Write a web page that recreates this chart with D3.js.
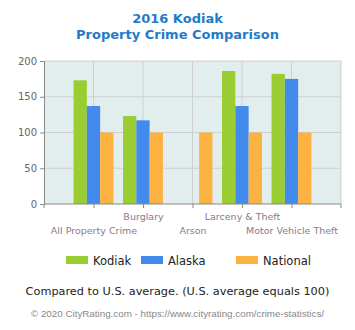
<!DOCTYPE html>
<html><head><meta charset="utf-8">
<script src="https://cdn.jsdelivr.net/npm/d3@7"></script>
<style>body{margin:0;background:#fff;}svg{display:block;}</style>
</head><body>
<script>
const categories = ["All Property Crime","Burglary","Arson","Larceny & Theft","Motor Vehicle Theft"];
const seriesNames = ["Kodiak","Alaska","National"];
const kodiak = [173, 123, null, 186, 182];
const alaska = [137, 117, null, 137, 175];
const national = [100, 100, 100, 100, 100];
const yTicks = [0, 50, 100, 150, 200];
const colors = ["#9acd32", "#428bed", "#fbb241"];

(function(){
const W = 355, H = 330;
const svg = d3.select("body").append("svg").attr("width", W).attr("height", H);
const pL = 44, pR = 341, pT = 61, pB = 204;

svg.append("text").attr("x", 177.5).attr("y", 23).attr("text-anchor","middle")
  .attr("font-family","DejaVu Sans").attr("font-weight","bold").attr("font-size",13)
  .attr("fill","#1f7bc9").text("2016 Kodiak");
svg.append("text").attr("x", 177.5).attr("y", 39).attr("text-anchor","middle")
  .attr("font-family","DejaVu Sans").attr("font-weight","bold").attr("font-size",13)
  .attr("fill","#1f7bc9").text("Property Crime Comparison");

const x = d3.scalePoint().domain(["_s", ...categories, "_e"]).range([pL, pR]);
const y = d3.scaleLinear().domain([0, 200]).range([pB, pT]);

svg.append("rect").attr("x", pL).attr("y", pT).attr("width", pR-pL).attr("height", pB-pT).attr("fill","#e2eeee");

svg.append("g").selectAll("line").data(yTicks.filter(d=>d>0)).join("line")
  .attr("x1", pL).attr("x2", pR).attr("y1", d=>y(d)).attr("y2", d=>y(d))
  .attr("stroke","#cfcfcf").attr("stroke-width",1);
svg.append("g").selectAll("line").data([...categories, "_e"]).join("line")
  .attr("x1", d=>x(d)).attr("x2", d=>x(d)).attr("y1", pT).attr("y2", pB)
  .attr("stroke","#cfcfcf").attr("stroke-width",1);

const data = [kodiak, alaska, national];
const bw = 13.3;
const g = svg.append("g");
data.forEach((vals, si) => {
  g.selectAll(null).data(vals.map((v,i)=>({v, c: categories[i]})).filter(d=>d.v!=null)).join("rect")
    .attr("x", d => x(d.c) - 1.5*bw + si*bw)
    .attr("width", bw)
    .attr("y", d => y(d.v))
    .attr("height", d => pB - y(d.v))
    .attr("fill", colors[si]);
});

const yAxis = svg.append("g").attr("transform", `translate(${pL},0)`)
  .call(d3.axisLeft(y).tickValues(yTicks).tickSize(4).tickPadding(3));
yAxis.select(".domain").attr("stroke","#888");
yAxis.selectAll(".tick line").attr("stroke","#888");
yAxis.selectAll("text").attr("font-family","DejaVu Sans").attr("font-size",10).attr("fill","#666");

const xAxis = svg.append("g").attr("transform", `translate(0,${pB})`)
  .call(d3.axisBottom(x).tickValues(categories).tickSize(4).tickSizeOuter(0).tickFormat(""));
xAxis.select(".domain").attr("stroke","#888").attr("d", `M${pL},4V0H${pR}V4`);
xAxis.selectAll(".tick line").attr("stroke","#888");
xAxis.selectAll(".tick").append("text")
  .attr("y", (d,i)=> i%2 ? 15.5 : 29.5)
  .attr("text-anchor","middle")
  .attr("font-family","DejaVu Sans").attr("font-size",9.5).attr("fill","#8a7a8a")
  .text(d=>d);

const legX = [66, 141, 236];
seriesNames.forEach((n,i)=>{
  svg.append("rect").attr("x", legX[i]).attr("y", 256).attr("width", 22).attr("height", 8).attr("fill", colors[i]);
  svg.append("text").attr("x", legX[i]+27).attr("y", 265).attr("font-family","DejaVu Sans").attr("font-size",11.5).attr("fill","#222").text(n);
});

svg.append("text").attr("x", 177.5).attr("y", 295).attr("text-anchor","middle")
  .attr("font-family","DejaVu Sans").attr("font-size",11.3).attr("fill","#222")
  .text("Compared to U.S. average. (U.S. average equals 100)");
svg.append("text").attr("x", 177.5).attr("y", 317).attr("text-anchor","middle")
  .attr("font-family","Arial, Liberation Sans").attr("font-size",9.8).attr("fill","#888")
  .text("© 2020 CityRating.com - https://www.cityrating.com/crime-statistics/");
})();
</script>
</body></html>
